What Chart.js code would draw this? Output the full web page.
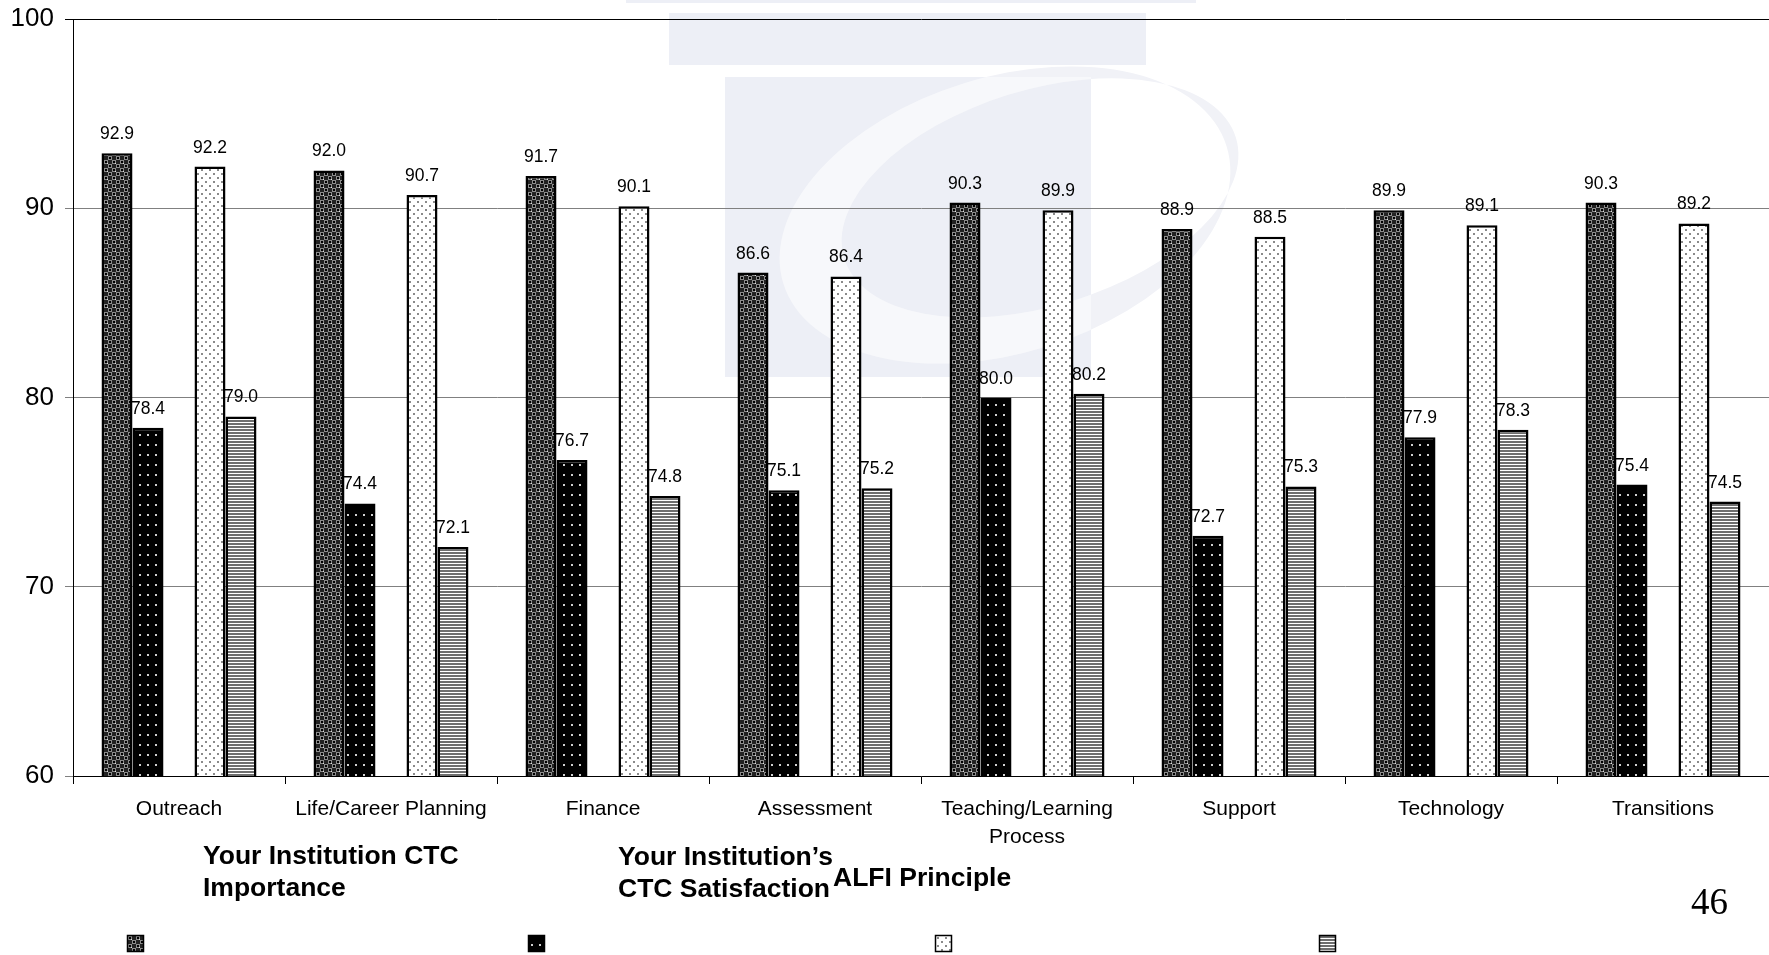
<!DOCTYPE html>
<html>
<head>
<meta charset="utf-8">
<script src="https://cdn.jsdelivr.net/npm/chart.js@4.4.0/dist/chart.umd.min.js"></script>
<style>
  html, body { margin: 0; padding: 0; background: #fff; overflow: hidden; }
  #wrap { position: relative; width: 1769px; height: 955px; }
</style>
</head>
<body>
<div id="wrap"><canvas id="chart" width="1769" height="955"></canvas></div>
<script>
// ---- data ----
const categories = ['Outreach', 'Life/Career Planning', 'Finance', 'Assessment',
  ['Teaching/Learning', 'Process'], 'Support', 'Technology', 'Transitions'];
const ctcImportance    = [92.9, 92.0, 91.7, 86.6, 90.3, 88.9, 89.9, 90.3];
const ctcSatisfaction  = [78.4, 74.4, 76.7, 75.1, 80.0, 72.7, 77.9, 75.4];
const alfiImportance   = [92.2, 90.7, 90.1, 86.4, 89.9, 88.5, 89.1, 89.2];
const alfiSatisfaction = [79.0, 72.1, 74.8, 75.2, 80.2, 75.3, 78.3, 74.5];
const yTicks = [60, 70, 80, 90, 100];
const seriesNames = ['Your Institution CTC Importance', 'Your Institution\u2019s CTC Satisfaction', 'ALFI Principle', ''];
const legendLines = [['Your Institution CTC', 'Importance'], ['Your Institution\u2019s', 'CTC Satisfaction'], ['ALFI Principle'], []];
const pageNumber = '46';

const SANS = '"Liberation Sans", Arial, sans-serif';

// ---- fill patterns ----
function makeTile(w, h, paint) {
  const c = document.createElement('canvas');
  c.width = w; c.height = h;
  const g = c.getContext('2d');
  paint(g);
  return document.getElementById('chart').getContext('2d').createPattern(c, 'repeat');
}
// dark checker with light specks
const patChecker = makeTile(8, 8, g => {
  g.fillStyle = '#222'; g.fillRect(0, 0, 8, 8);
  g.fillStyle = '#8c8c8c';
  g.fillRect(0, 0, 4, 4); g.fillRect(4, 4, 4, 4);
  g.fillStyle = '#000';
  g.fillRect(1, 1, 2, 2); g.fillRect(5, 5, 2, 2);
  g.fillStyle = '#e0e0e0'; g.fillRect(3, 3, 1, 1);
});
// black with small light dots
const patBlackDots = makeTile(8, 10, g => {
  g.fillStyle = '#000'; g.fillRect(0, 0, 8, 10);
  g.fillStyle = '#d0d0d0'; g.fillRect(3, 4, 2, 2);
});
// white with grey dots
const patWhiteDots = makeTile(8, 8, g => {
  g.fillStyle = '#fff'; g.fillRect(0, 0, 8, 8);
  g.fillStyle = '#8a8a8a'; g.fillRect(1, 1, 2, 2); g.fillRect(5, 5, 2, 2);
});
// horizontal grey stripes
const patStripes = makeTile(4, 3, g => {
  g.fillStyle = '#fff'; g.fillRect(0, 0, 4, 3);
  g.fillStyle = '#6e6e6e'; g.fillRect(0, 0, 4, 2);
});
const seriesFills = [patChecker, patBlackDots, patWhiteDots, patStripes];

// ---- faint emblem behind the plot ----
function drawEmblem(ctx) {
  ctx.save();
  ctx.fillStyle = '#edeff6';
  ctx.fillRect(626, 0, 570, 3);
  ctx.fillRect(669, 13, 477, 52);
  const col = [725, 77, 366, 300];
  ctx.fillRect(col[0], col[1], col[2], col[3]);
  const cres = new Path2D();
  cres.ellipse(1005, 215, 232, 138, -0.3, 0, Math.PI * 2);
  cres.ellipse(1040, 198, 205, 108, -0.3, 0, Math.PI * 2);
  ctx.fillStyle = '#f1f2f7';
  ctx.fill(cres, 'evenodd');
  ctx.beginPath(); ctx.rect(col[0], col[1], col[2], col[3]); ctx.clip();
  ctx.fillStyle = '#f7f8fb';
  ctx.fill(cres, 'evenodd');
  ctx.restore();
}

const emblemPlugin = {
  id: 'emblem',
  beforeDraw(chart) { drawEmblem(chart.ctx); }
};

// value labels above each bar
const valueLabels = {
  id: 'valueLabels',
  afterDatasetsDraw(chart) {
    const ctx = chart.ctx;
    ctx.save();
    ctx.font = '17.5px ' + SANS;
    ctx.fillStyle = '#000';
    ctx.textAlign = 'center';
    ctx.textBaseline = 'alphabetic';
    chart.data.datasets.forEach((ds, di) => {
      if (ds.gap) return;
      chart.getDatasetMeta(di).data.forEach((bar, i) => {
        ctx.fillText(ds.data[i].toFixed(1), bar.x, bar.y - 14);
      });
    });
    ctx.restore();
  }
};

// legend block under the axis, plus the page number
const legendBlock = {
  id: 'legendBlock',
  afterDraw(chart) {
    const ctx = chart.ctx;
    ctx.save();
    ctx.fillStyle = '#000';
    ctx.textAlign = 'left';
    ctx.textBaseline = 'alphabetic';
    ctx.font = 'bold 26.5px ' + SANS;
    const textPos = [[203, 864], [618, 865], [833, 886], [0, 0]];
    legendLines.forEach((lines, k) => {
      lines.forEach((t, j) => ctx.fillText(t, textPos[k][0], textPos[k][1] + j * 32));
    });
    const swatchX = [127, 528, 935, 1319];
    seriesFills.forEach((f, k) => {
      ctx.fillStyle = f;
      ctx.fillRect(swatchX[k], 935, 17, 17);
      ctx.strokeStyle = '#000';
      ctx.lineWidth = 1.5;
      ctx.strokeRect(swatchX[k] + 0.5, 935.5, 16, 16);
    });
    ctx.fillStyle = '#000';
    ctx.font = '37px "Liberation Serif", "Times New Roman", serif';
    ctx.fillText(pageNumber, 1691, 914);
    ctx.restore();
  }
};

function barSet(label, data, fill) {
  return {
    label, data,
    backgroundColor: fill,
    borderColor: '#000',
    borderWidth: 2.5,
    borderSkipped: 'bottom'
  };
}

new Chart(document.getElementById('chart'), {
  type: 'bar',
  data: {
    labels: categories,
    datasets: [
      barSet(seriesNames[0], ctcImportance, patChecker),
      barSet(seriesNames[1], ctcSatisfaction, patBlackDots),
      { label: '', data: [], gap: true },
      barSet(seriesNames[2], alfiImportance, patWhiteDots),
      barSet(seriesNames[3], alfiSatisfaction, patStripes)
    ]
  },
  options: {
    responsive: false,
    animation: false,
    events: [],
    categoryPercentage: 0.731,
    barPercentage: 1.0,
    layout: { padding: { top: 19, left: 0, right: 0, bottom: 0 } },
    plugins: { legend: { display: false }, tooltip: { enabled: false } },
    scales: {
      x: {
        grid: { offset: true, drawOnChartArea: false, drawTicks: true, tickLength: 8, color: '#000', lineWidth: 1 },
        border: { display: true, color: '#000', width: 1 },
        ticks: { color: '#000', font: { family: SANS, size: 21, lineHeight: 1.35 }, padding: 11, maxRotation: 0, autoSkip: false },
        afterFit(scale) { scale.height = 179; }
      },
      y: {
        min: 60, max: 100,
        afterBuildTicks(scale) { scale.ticks = yTicks.map(v => ({ value: v })); },
        grid: {
          color: c => (c.tick && c.tick.value === 100) ? '#000' : '#808080',
          lineWidth: 1, tickLength: 8, drawTicks: true
        },
        border: { display: true, color: '#000', width: 1 },
        ticks: { color: '#000', font: { family: SANS, size: 26 }, padding: 11 },
        afterFit(scale) {
          scale.width = 73;
          scale.paddingTop = 0;
          scale.paddingBottom = 0;
        }
      }
    }
  },
  plugins: [emblemPlugin, valueLabels, legendBlock]
});
</script>
</body>
</html>
